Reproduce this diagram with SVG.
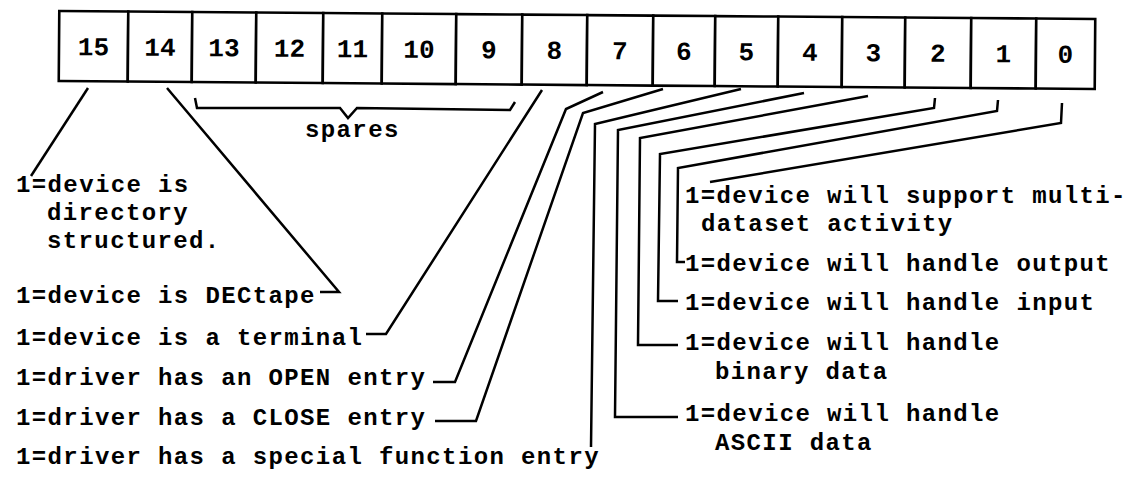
<svg xmlns="http://www.w3.org/2000/svg" width="1143" height="478" viewBox="0 0 1143 478">
  <style>
    text { font-family: "Liberation Mono", "DejaVu Sans Mono", monospace; font-weight: bold; font-size: 24px; letter-spacing: 1.38px; fill: #000; }
    .cell rect { fill: #fff; stroke: #000; stroke-width: 2.6; }
    .cell text { text-anchor: middle; font-size: 26px; letter-spacing: 0; }
    .wire { fill: none; stroke: #000; stroke-width: 2.5; stroke-linejoin: miter; stroke-linecap: butt; }
  </style>
  <rect width="1143" height="478" fill="#fff"/>

  <!-- 16-bit register, bits 15..0 (page slightly tilted) -->
  <g id="register" transform="rotate(0.442 577 50)">
    <g id="bit15" class="cell"><rect x="59" y="15" width="69" height="70"/><text x="93.5" y="59">15</text></g>
    <g id="bit14" class="cell"><rect x="128" y="15" width="64" height="70"/><text x="160" y="59">14</text></g>
    <g id="bit13" class="cell"><rect x="192" y="15" width="64" height="70"/><text x="224" y="59">13</text></g>
    <g id="bit12" class="cell"><rect x="256" y="15" width="67" height="70"/><text x="289.5" y="59">12</text></g>
    <g id="bit11" class="cell"><rect x="323" y="15" width="59" height="70"/><text x="352.5" y="59">11</text></g>
    <g id="bit10" class="cell"><rect x="382" y="15" width="74" height="70"/><text x="419" y="59">10</text></g>
    <g id="bit9" class="cell"><rect x="456" y="15" width="66" height="70"/><text x="489" y="59">9</text></g>
    <g id="bit8" class="cell"><rect x="522" y="15" width="65" height="70"/><text x="554.5" y="59">8</text></g>
    <g id="bit7" class="cell"><rect x="587" y="15" width="66" height="70"/><text x="620" y="59">7</text></g>
    <g id="bit6" class="cell"><rect x="653" y="15" width="62" height="70"/><text x="684" y="59">6</text></g>
    <g id="bit5" class="cell"><rect x="715" y="15" width="63" height="70"/><text x="746.5" y="59">5</text></g>
    <g id="bit4" class="cell"><rect x="778" y="15" width="64" height="70"/><text x="810" y="59">4</text></g>
    <g id="bit3" class="cell"><rect x="842" y="15" width="63" height="70"/><text x="873.5" y="59">3</text></g>
    <g id="bit2" class="cell"><rect x="905" y="15" width="66" height="70"/><text x="938" y="59">2</text></g>
    <g id="bit1" class="cell"><rect x="971" y="15" width="65" height="70"/><text x="1003.5" y="59">1</text></g>
    <g id="bit0" class="cell"><rect x="1036" y="15" width="59" height="70"/><text x="1065.5" y="59">0</text></g>
  </g>

  <!-- brace over bits 13..9 -->
  <g id="spares">
    <polyline class="wire" points="195,98 197,108 340,108 348,118 357,108 510,110 515,102"/>
    <text x="305" y="137">spares</text>
  </g>

  <!-- left-hand descriptions -->
  <g id="desc15"><text x="16" y="192">1=device is</text><text x="47" y="220">directory</text><text x="47" y="248">structured.</text></g>
  <g id="desc14"><text x="16" y="303">1=device is DECtape</text></g>
  <g id="desc8"><text x="16" y="345">1=device is a terminal</text></g>
  <g id="desc7"><text x="16" y="385">1=driver has an OPEN entry</text></g>
  <g id="desc6"><text x="16" y="425">1=driver has a CLOSE entry</text></g>
  <g id="desc5"><text x="16" y="464">1=driver has a special function entry</text></g>

  <!-- right-hand descriptions -->
  <g id="desc0"><text x="685" y="203">1=device will support multi-</text><text x="701" y="231">dataset activity</text></g>
  <g id="desc1"><text x="685" y="271">1=device will handle output</text></g>
  <g id="desc2"><text x="685" y="310">1=device will handle input</text></g>
  <g id="desc3"><text x="685" y="350">1=device will handle</text><text x="715" y="379">binary data</text></g>
  <g id="desc4"><text x="685" y="421">1=device will handle</text><text x="715" y="450">ASCII data</text></g>

  <!-- leader lines from each bit to its description -->
  <g id="connectors">
    <polyline class="wire" points="88,88 31,176"/>
    <polyline class="wire" points="167,88 339,292 320,292"/>
    <polyline class="wire" points="542,90 386,334 366,334"/>
    <polyline class="wire" points="603,92 566,109 455,382 433,382"/>
    <polyline class="wire" points="663,89 583,113 476,421 435,421"/>
    <polyline class="wire" points="741,89 595,124 591,447"/>
    <polyline class="wire" points="804,93 618,130 615,417 678,417"/>
    <polyline class="wire" points="868,96 640,138 638,345 678,345"/>
    <polyline class="wire" points="935,98 934,108 660,154 658,301 678,301"/>
    <polyline class="wire" points="998,100 997,111 678,168 677,262 685,262"/>
    <polyline class="wire" points="1062,103 1061,123 710,182"/>
  </g>
</svg>
